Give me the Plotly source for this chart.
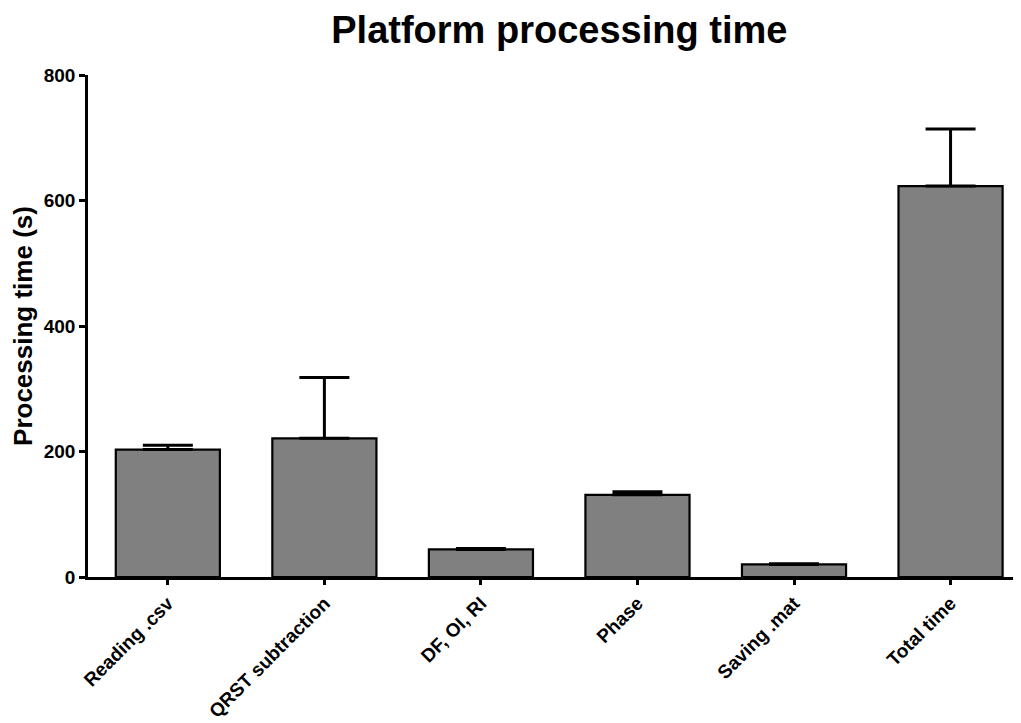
import plotly.graph_objects as go

categories = ["Reading .csv", "QRST subtraction", "DF, OI, RI", "Phase", "Saving .mat", "Total time"]
means = [203, 221, 44, 131, 20, 623]
errors = [7, 97, 1.5, 5, 1, 91]
y_ticks = [0, 200, 400, 600, 800]

fig = go.Figure()
fig.add_trace(go.Bar(
    x=list(range(len(categories))),
    y=means,
    width=0.665,
    marker=dict(color="#808080", line=dict(color="black", width=2.2)),
    error_y=dict(type="data", array=errors, arrayminus=[0]*len(errors), symmetric=False,
                 color="black", thickness=3, width=25),
))

fig.update_layout(
    width=1021, height=723,
    margin=dict(l=80, r=8, t=67, b=154, autoexpand=False),
    paper_bgcolor="white", plot_bgcolor="white",
    showlegend=False,
    title=dict(text="<b>Platform processing time</b>", x=0.54, xanchor="center", y=0.97, yanchor="middle",
               font=dict(family="Liberation Sans, Arial", size=38, color="black")),
    font=dict(family="Liberation Sans, Arial", color="black"),
)
fig.update_xaxes(
    range=[-0.51, 5.45],
    tickmode="array", tickvals=list(range(len(categories))),
    ticktext=["<b>%s</b>" % c for c in categories],
    tickangle=-45, tickfont=dict(size=19, color="black"),
    showline=True, linecolor="black", linewidth=2.5,
    ticks="outside", ticklen=5, tickwidth=2.5, tickcolor="black",
    showgrid=False, zeroline=False,
)
fig.update_yaxes(
    range=[0, 800], tickvals=y_ticks,
    ticktext=["<b>%d</b>" % v for v in y_ticks],
    tickfont=dict(size=19, color="black"),
    title=dict(text="<b>Processing time (s)</b>", font=dict(size=26, color="black"), standoff=8),
    showline=True, linecolor="black", linewidth=2.5,
    ticks="outside", ticklen=6, tickwidth=2.5, tickcolor="black",
    showgrid=False, zeroline=False,
)

fig.write_html("out.html")
